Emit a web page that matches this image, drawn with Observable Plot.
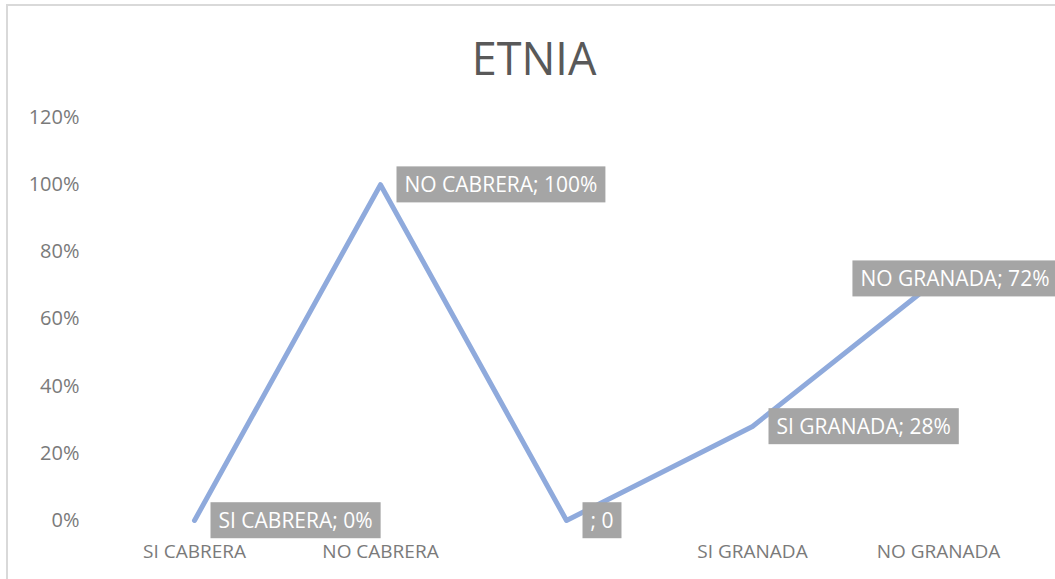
<!DOCTYPE html>
<html>
<head>
<meta charset="utf-8">
<script src="https://cdn.jsdelivr.net/npm/d3@7"></script>
<script src="https://cdn.jsdelivr.net/npm/@observablehq/plot@0.6"></script>
<style>
  body { margin: 0; background: #fff; }
  #wrap { position: relative; width: 1055px; height: 579px; overflow: hidden; background: #fff; }
  #frame { position: absolute; left: 6px; top: 4px; width: 1100px; height: 700px; border-left: 2px solid #d9d9d9; border-top: 2px solid #d9d9d9; }
  #title { position: absolute; left: 0; top: 35px; width: 1068px; text-align: center; font-family: "Open Sans", sans-serif; font-size: 45px; line-height: 45px; color: #595959; }
  #chart { position: absolute; left: 0; top: 100px; }
</style>
</head>
<body>
<div id="wrap">
  <div id="frame"></div>
  <div id="title">ETNIA</div>
  <div id="chart"></div>
</div>
<script>
const categories = ["SI CABRERA", "NO CABRERA", " ", "SI GRANADA", "NO GRANADA"];
const values = [0, 1.00, 0, 0.28, 0.72];
const labels = ["SI CABRERA; 0%", "NO CABRERA; 100%", "; 0", "SI GRANADA; 28%", "NO GRANADA; 72%"];
const yTicks = [0, 0.2, 0.4, 0.6, 0.8, 1.0, 1.2];

const data = categories.map((c, i) => ({cat: c, v: values[i], label: labels[i], last: i === categories.length - 1}));

const plot = Plot.plot({
  width: 1055,
  height: 479,
  marginLeft: 100,
  marginRight: 23,
  marginTop: 17,
  marginBottom: 59,
  style: {fontFamily: "Open Sans, sans-serif", background: "transparent"},
  x: {type: "point", domain: categories, padding: 0.5, label: null},
  y: {domain: [0, 1.2], label: null},
  marks: [
    Plot.axisY({ticks: yTicks, tickFormat: d3.format(".0%"), tickSize: 0, tickPadding: 21, fontSize: 20, color: "#7a7a7a"}),
    Plot.axisX({tickSize: 0, tickPadding: 24, fontSize: 19, color: "#7a7a7a"}),
    Plot.line(data, {x: "cat", y: "v", stroke: "#8FAADC", strokeWidth: 5, strokeLinejoin: "round"}),
    Plot.text(data.filter(d => !d.last), {x: "cat", y: "v", text: "label", textAnchor: "start", dx: 24, dy: 1, fill: "white", fontSize: 21, lineAnchor: "middle"}),
    Plot.text(data.filter(d => d.last), {x: "cat", y: "v", text: "label", textAnchor: "end", dx: 111, dy: 1, fill: "white", fontSize: 21, lineAnchor: "middle"})
  ]
});
document.getElementById("chart").appendChild(plot);

// grey label boxes behind the data labels
plot.querySelectorAll('g[aria-label="text"] text').forEach(t => {
  const b = t.getBBox();
  const tr = t.getAttribute("transform");
  const r = document.createElementNS("http://www.w3.org/2000/svg", "rect");
  r.setAttribute("x", b.x - 8);
  r.setAttribute("y", b.y + b.height / 2 - 18);
  r.setAttribute("width", b.width + 16);
  r.setAttribute("height", 36);
  r.setAttribute("fill", "#A5A5A5");
  if (tr) r.setAttribute("transform", tr);
  t.parentNode.insertBefore(r, t);
});
</script>
</body>
</html>
